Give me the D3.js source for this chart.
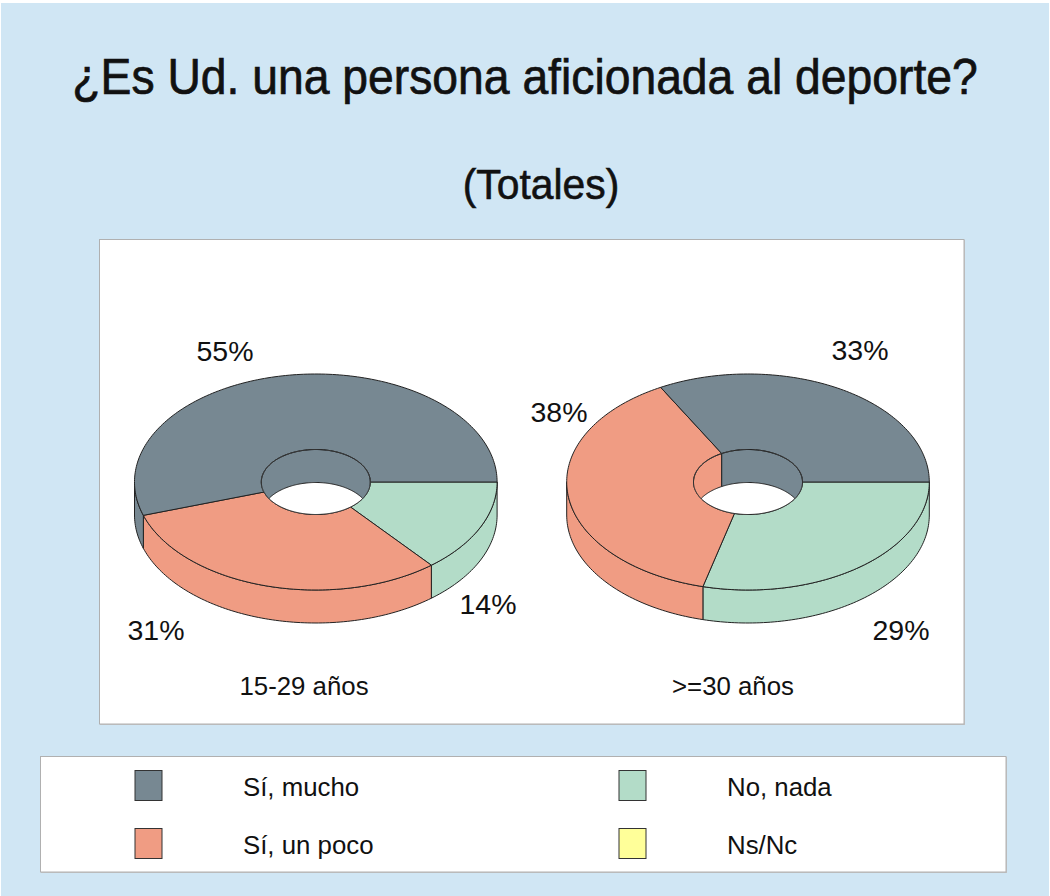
<!DOCTYPE html>
<html><head><meta charset="utf-8">
<script src="https://cdn.jsdelivr.net/npm/d3@7"></script>
<style>html,body{margin:0;padding:0;background:#fff}svg{display:block}text{font-family:"Liberation Sans",Arial,sans-serif;fill:#111}</style>
</head><body><div id="chart"></div>
<script>
const title = "¿Es Ud. una persona aficionada al deporte?";
const subtitle = "(Totales)";
const categories = ["No, nada", "Sí, un poco", "Sí, mucho", "Ns/Nc"];
const groupNames = ["15-29 años", ">=30 años"];
const youngValues = [14, 31, 55, 0];
const olderValues = [29, 38, 33, 0];
const colors = {"Sí, mucho":"#778892","Sí, un poco":"#F09C83","No, nada":"#B3DCC8","Ns/Nc":"#FFFF99"};
const legendOrder = ["Sí, mucho","Sí, un poco","No, nada","Ns/Nc"];

const W=1050,H=896, TAU=Math.PI*2;
const svg=d3.select("#chart").append("svg").attr("width",W).attr("height",H);
svg.append("rect").attr("x",1).attr("y",3).attr("width",W-2).attr("height",H-3).attr("fill","#D0E6F4");
svg.append("text").attr("transform","translate(525,94) scale(0.935,1)").attr("text-anchor","middle").attr("font-size",49.5).attr("stroke","#111").attr("stroke-width",0.7).text(title);
svg.append("text").attr("transform","translate(541,199) scale(0.95,1)").attr("text-anchor","middle").attr("font-size",43).attr("stroke","#111").attr("stroke-width",0.6).text(subtitle);
function panel(x,y,w,h){
  svg.append("rect").attr("x",x+1).attr("y",y+1).attr("width",w).attr("height",h).attr("fill","#c4c4c4");
  svg.append("rect").attr("x",x+.5).attr("y",y+.5).attr("width",w-.5).attr("height",h-.5).attr("fill","#fff").attr("stroke","#b0b0b0");
}
panel(99,239,865,485);
panel(40,756,966,116);

const rx=181.3, ry=108, hrx=54.5, hry=32.5, depth=33;
const pie=d3.pie().sort(null).startAngle(0).endAngle(TAU);
const line=d3.line();
const stroke="#222";
function drawPie(values,cx,cy,id){
  const g=svg.append("g");
  // angle 0 = 3 o'clock, growing clockwise on screen
  const px=(a,r)=>cx+r*Math.cos(a), py=(a,r,k,dy=0)=>cy+k*Math.sin(a)+dy;
  const arc=(a0,a1,r,k,dy=0)=>{const n=Math.max(2,Math.ceil(Math.abs(a1-a0)/0.02));
    return d3.range(n+1).map(i=>{const a=a0+(a1-a0)*i/n;return [px(a,r),py(a,r,k,dy)];});};
  const slices=pie(values).map((d,i)=>({a0:d.startAngle,a1:d.endAngle,c:colors[categories[i]]})).filter(s=>s.a1>s.a0);
  // outer wall
  slices.forEach(s=>{const a0=Math.max(s.a0,0),a1=Math.min(s.a1,Math.PI);if(a1<=a0)return;
    g.append("path").attr("d",line([...arc(a0,a1,rx,ry),...arc(a1,a0,rx,ry,depth)])+"Z").attr("fill",s.c).attr("stroke",stroke);});
  // top faces
  slices.forEach(s=>{
    g.append("path").attr("d",line([...arc(s.a0,s.a1,rx,ry),...arc(s.a1,s.a0,hrx,hry)])+"Z").attr("fill",s.c).attr("stroke",stroke).attr("stroke-linejoin","round");});
  // hole
  const holePts=arc(0,TAU,hrx,hry);
  g.append("clipPath").attr("id",id).append("path").attr("d",line(holePts)+"Z");
  g.append("path").attr("d",line(holePts)+"Z").attr("fill","#fff");
  const hg=g.append("g").attr("clip-path",`url(#${id})`);
  slices.forEach(s=>{const a0=Math.max(s.a0,Math.PI),a1=Math.min(s.a1,TAU);if(a1<=a0)return;
    hg.append("path").attr("d",line([...arc(a0,a1,hrx,hry),...arc(a1,a0,hrx,hry,depth)])+"Z").attr("fill",s.c).attr("stroke",stroke);});
  g.append("path").attr("d",line(holePts)+"Z").attr("fill","none").attr("stroke",stroke);
}
drawPie(youngValues,315.8,482,"h1");
drawPie(olderValues,748,482,"h2");

const labels=[["55%",225,361],["31%",156,640],["14%",488,614],["33%",860,360],["38%",559,422],["29%",901,640]];
labels.forEach(l=>svg.append("text").attr("x",l[1]).attr("y",l[2]).attr("text-anchor","middle").attr("font-size",28.5).text(l[0]));
svg.append("text").attr("x",304).attr("y",695).attr("text-anchor","middle").attr("font-size",25.8).text(groupNames[0]);
svg.append("text").attr("x",733).attr("y",695).attr("text-anchor","middle").attr("font-size",25.8).text(groupNames[1]);

const legX=d3.scalePoint().domain([0,1]).range([135,619]);
const legY=d3.scalePoint().domain([0,1]).range([770.5,828.5]);
legendOrder.forEach((c,i)=>{const col=i<2?0:1,row=i%2;
  svg.append("rect").attr("x",legX(col)).attr("y",legY(row)).attr("width",27).attr("height",30).attr("fill",colors[c]).attr("stroke","#333");
  svg.append("text").attr("x",legX(col)+108).attr("y",legY(row)+25.5).attr("font-size",25.8).text(c);
});
</script></body></html>
